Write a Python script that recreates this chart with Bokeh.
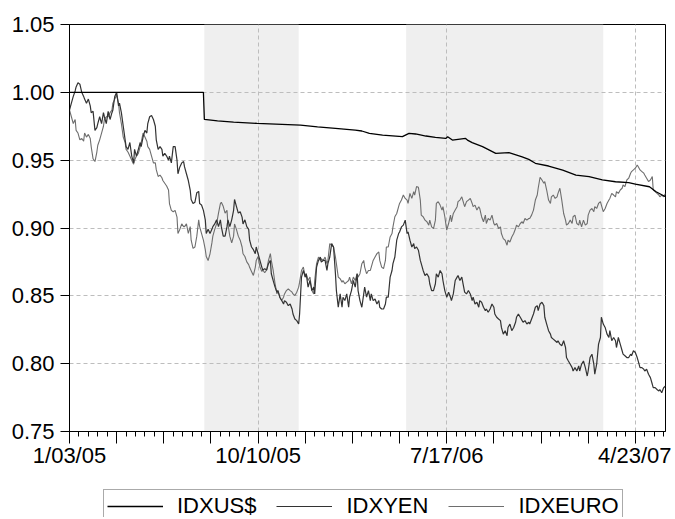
from bokeh.plotting import figure
from bokeh.layouts import column
from bokeh.models import (Range1d, FixedTicker, PrintfTickFormatter, BoxAnnotation,
                          Legend, LegendItem)
from bokeh.embed import file_html
from bokeh.resources import INLINE

# ---------------- data (x = business-day observation index from 1/03/05) ----------------
tick_obs = [0, 200, 400, 600]
tick_labels = ["1/03/05", "10/10/05", "7/17/06", "4/23/07"]
y_ticks = [0.75, 0.80, 0.85, 0.90, 0.95, 1.00, 1.05]

shade_start = [143, 357]
shade_end = [243, 566]

usd_obs = [0, 142, 143, 157, 174, 199, 245, 263, 282, 303, 310, 318, 332, 353, 360, 367,
           378, 388, 399, 401, 406, 420, 422, 427, 438, 452, 466, 480, 487, 494, 508, 523,
           537, 551, 565, 579, 593, 600, 615, 622, 632]
usd_val = [1.000, 1.000, 0.980, 0.979, 0.978, 0.9771, 0.9759, 0.9746, 0.9735, 0.9722, 0.9715,
           0.9698, 0.9685, 0.9673, 0.9698, 0.9693, 0.9678, 0.9668, 0.9660, 0.9673, 0.9648,
           0.9660, 0.9648, 0.9629, 0.9600, 0.9550, 0.9555, 0.9525, 0.9506, 0.9477, 0.9457,
           0.9427, 0.9390, 0.9378, 0.9354, 0.9341, 0.9334, 0.9324, 0.9304, 0.9267, 0.9230]

sample_obs = [
    0, 2, 4, 6, 7, 9, 11, 13, 15, 16,
    18, 20, 22, 23, 25, 27, 29, 30, 32, 34,
    36, 37, 39, 41, 43, 45, 46, 48, 50, 52,
    53, 55, 57, 59, 60, 62, 64, 66, 68, 69,
    71, 73, 75, 76, 78, 80, 82, 83, 85, 87,
    89, 91, 92, 94, 96, 98, 99, 101, 103, 105,
    106, 108, 110, 112, 114, 115, 117, 119, 121, 122,
    124, 126, 128, 129, 131, 133, 135, 137, 138, 140,
    142, 144, 145, 147, 149, 151, 152, 154, 156, 158,
    160, 161, 163, 165, 167, 168, 170, 172, 174, 175,
    177, 179, 181, 183, 184, 186, 188, 190, 191, 193,
    195, 197, 198, 200, 202, 204, 205, 207, 209,
    211, 213, 214, 216, 218, 220, 221, 223, 225, 227,
    228, 230, 232, 234, 236, 237, 239, 241, 243, 244,
    246, 248, 250, 251, 253, 255, 257, 259, 260, 262,
    264, 266, 267, 269, 271, 273, 274, 276, 278, 280,
    282, 283, 285, 287, 289, 290, 292, 294, 296, 297,
    299, 301, 303, 305, 306, 308, 310, 312, 313, 315,
    317, 319, 320, 322, 324, 326, 328, 329, 331, 333,
    335, 336, 338, 340, 342, 343, 345, 347, 349, 350,
    352, 354, 356, 358, 359, 361, 363, 365, 366, 368,
    370, 372, 373, 375, 377, 379, 381, 382, 384, 386,
    388, 389, 391, 393, 395, 396, 398, 400, 402, 404,
    405, 407, 409, 411, 412, 414, 416, 418, 419, 421,
    423, 425, 427, 428, 430, 432, 434, 435, 437, 439,
    441, 442, 444, 446, 448, 450, 451, 453, 455, 457,
    458, 460, 462, 464, 465, 467, 469, 471, 473, 474,
    476, 478, 480, 481, 483, 485, 487, 488, 490, 492,
    494, 496, 497, 499, 501, 503, 504, 506, 508, 510,
    511, 513, 515, 517, 518, 520, 522, 524, 526, 527,
    529, 531, 533, 534, 536, 538, 540, 541, 543, 545,
    547, 549, 550, 552, 554, 556, 557, 559, 561, 563,
    564, 566, 568, 570, 572, 573, 575, 577, 579, 580,
    582, 584, 586, 587, 589, 591, 593, 595, 596, 598,
    600, 602, 603, 605, 607, 609, 610, 612, 614, 616,
    618, 619, 621, 623, 625, 626, 628, 630, 632,
]

yen_val = [
    0.987, 0.992, 0.997, 1.001, 1.004, 1.007, 1.006, 1.000, 0.997, 0.995,
    0.992, 0.995, 0.990, 0.985, 0.986, 0.972, 0.974, 0.977, 0.982, 0.977,
    0.985, 0.982, 0.977, 0.986, 0.980, 0.985, 0.987, 0.997, 1.000, 0.990,
    0.992, 0.985, 0.975, 0.965, 0.960, 0.958, 0.963, 0.953, 0.948, 0.958,
    0.953, 0.958, 0.963, 0.960, 0.967, 0.972, 0.970, 0.977, 0.982, 0.983,
    0.980, 0.975, 0.965, 0.958, 0.960, 0.958, 0.953, 0.955, 0.953, 0.950,
    0.953, 0.948, 0.960, 0.960, 0.950, 0.940, 0.945, 0.948, 0.949, 0.945,
    0.940, 0.935, 0.928, 0.921, 0.918, 0.919, 0.926, 0.927, 0.918, 0.917,
    0.913, 0.906, 0.896, 0.899, 0.896, 0.899, 0.901, 0.903, 0.906, 0.901,
    0.906, 0.901, 0.894, 0.894, 0.901, 0.906, 0.901, 0.906, 0.913, 0.921,
    0.916, 0.911, 0.912, 0.908, 0.903, 0.906, 0.901, 0.899, 0.891, 0.886,
    0.884, 0.881, 0.886, 0.881, 0.876, 0.871, 0.869, 0.870, 0.869,
    0.8737, 0.8761, 0.8663, 0.8613, 0.8564, 0.8527, 0.8539, 0.8490, 0.8465, 0.8440,
    0.8465, 0.8453, 0.8428, 0.8440, 0.8403, 0.8366, 0.8329, 0.8317, 0.8292, 0.8366,
    0.8638, 0.8687, 0.8638, 0.8663, 0.8564, 0.8613, 0.8539, 0.8564, 0.8514, 0.8712,
    0.8761, 0.8786, 0.8749, 0.8761, 0.8761, 0.8687, 0.8737, 0.8786, 0.8885, 0.8860,
    0.8663, 0.8539, 0.8416, 0.8514, 0.8416, 0.8490, 0.8465, 0.8514, 0.8416, 0.8490,
    0.8539, 0.8613, 0.8564, 0.8663, 0.8539, 0.8465, 0.8416, 0.8514, 0.8564, 0.8490,
    0.8539, 0.8465, 0.8514, 0.8465, 0.8477, 0.8440, 0.8465, 0.8416, 0.8403, 0.8403,
    0.8440, 0.8490, 0.8490, 0.8638, 0.8687, 0.8737, 0.8786, 0.8910, 0.8959, 0.8971,
    0.9008, 0.9021, 0.9058, 0.8959, 0.8971, 0.8910, 0.8860, 0.8885, 0.8848, 0.8860,
    0.8836, 0.8761, 0.8737, 0.8687, 0.8650, 0.8663, 0.8638, 0.8589, 0.8539, 0.8539,
    0.8589, 0.8663, 0.8638, 0.8687, 0.8663, 0.8613, 0.8539, 0.8490, 0.8527, 0.8490,
    0.8465, 0.8514, 0.8613, 0.8638, 0.8650, 0.8613, 0.8638, 0.8564, 0.8527, 0.8514,
    0.8539, 0.8514, 0.8465, 0.8490, 0.8440, 0.8453, 0.8416, 0.8465, 0.8453, 0.8416,
    0.8391, 0.8403, 0.8379, 0.8403, 0.8440, 0.8416, 0.8366, 0.8342, 0.8329, 0.8317,
    0.8267, 0.8218, 0.8243, 0.8206, 0.8267, 0.8292, 0.8243, 0.8267, 0.8305, 0.8342,
    0.8366, 0.8342, 0.8317, 0.8305, 0.8317, 0.8292, 0.8305, 0.8292, 0.8329, 0.8366,
    0.8416, 0.8428, 0.8391, 0.8440, 0.8453, 0.8428, 0.8342, 0.8292, 0.8243, 0.8218,
    0.8193, 0.8181, 0.8169, 0.8156, 0.8169, 0.8144, 0.8132, 0.8169, 0.8119, 0.8045,
    0.8020, 0.7996, 0.7971, 0.7946, 0.7971, 0.7946, 0.7983, 0.7946, 0.7996, 0.8020,
    0.7971, 0.7909, 0.7946, 0.8045, 0.8070, 0.7996, 0.7922, 0.7996, 0.8144, 0.8193,
    0.8342, 0.8292, 0.8267, 0.8218, 0.8193, 0.8243, 0.8169, 0.8193, 0.8169, 0.8119,
    0.8193, 0.8144, 0.8095, 0.8070, 0.8058, 0.8045, 0.8045, 0.8070, 0.8058, 0.8095,
    0.8082, 0.8045, 0.8020, 0.7971, 0.7971, 0.7959, 0.7946, 0.7959, 0.7922, 0.7897,
    0.7848, 0.7823, 0.7823, 0.7810, 0.7798, 0.7810, 0.7786, 0.7823, 0.7835,
]

euro_val = [
    0.987, 0.982, 0.977, 0.980, 0.972, 0.970, 0.965, 0.966, 0.964, 0.970,
    0.967, 0.969, 0.966, 0.960, 0.951, 0.949, 0.956, 0.961, 0.965, 0.970,
    0.975, 0.980, 0.982, 0.982, 0.985, 0.987, 0.992, 0.995, 0.998, 0.992,
    0.985, 0.977, 0.967, 0.963, 0.958, 0.956, 0.953, 0.950, 0.947, 0.950,
    0.953, 0.955, 0.960, 0.963, 0.970, 0.967, 0.964, 0.960, 0.958, 0.953,
    0.948, 0.948, 0.943, 0.938, 0.939, 0.937, 0.935, 0.933, 0.931, 0.928,
    0.918, 0.913, 0.912, 0.913, 0.908, 0.896, 0.899, 0.903, 0.901, 0.901,
    0.903, 0.896, 0.901, 0.891, 0.885, 0.886, 0.894, 0.906, 0.901, 0.896,
    0.891, 0.884, 0.879, 0.876, 0.881, 0.889, 0.894, 0.899, 0.903, 0.911,
    0.918, 0.919, 0.916, 0.911, 0.913, 0.903, 0.894, 0.889, 0.894, 0.903,
    0.899, 0.894, 0.891, 0.886, 0.881, 0.879, 0.875, 0.873, 0.871, 0.868,
    0.865, 0.871, 0.876, 0.879, 0.871, 0.868, 0.869, 0.867, 0.869,
    0.8761, 0.8811, 0.8761, 0.8687, 0.8589, 0.8514, 0.8539, 0.8490, 0.8465, 0.8490,
    0.8514, 0.8539, 0.8552, 0.8539, 0.8527, 0.8514, 0.8502, 0.8527, 0.8564, 0.8601,
    0.8687, 0.8712, 0.8638, 0.8663, 0.8613, 0.8638, 0.8539, 0.8514, 0.8613, 0.8737,
    0.8786, 0.8761, 0.8774, 0.8761, 0.8786, 0.8737, 0.8761, 0.8885, 0.8873, 0.8860,
    0.8786, 0.8737, 0.8638, 0.8626, 0.8601, 0.8613, 0.8589, 0.8601, 0.8613, 0.8638,
    0.8589, 0.8638, 0.8613, 0.8663, 0.8638, 0.8663, 0.8737, 0.8761, 0.8712, 0.8663,
    0.8687, 0.8687, 0.8712, 0.8761, 0.8786, 0.8811, 0.8823, 0.8761, 0.8712, 0.8700,
    0.8761, 0.8860, 0.8860, 0.8934, 0.8959, 0.9008, 0.9083, 0.9107, 0.9157, 0.9181,
    0.9206, 0.9243, 0.9218, 0.9206, 0.9181, 0.9255, 0.9218, 0.9268, 0.9243, 0.9305,
    0.9300, 0.9206, 0.9095, 0.9083, 0.9058, 0.9046, 0.9021, 0.9058, 0.9008, 0.8996,
    0.9058, 0.9181, 0.9194, 0.9169, 0.9132, 0.9157, 0.9083, 0.8984, 0.9033, 0.9095,
    0.9046, 0.9107, 0.9132, 0.9157, 0.9194, 0.9206, 0.9230, 0.9181, 0.9157, 0.9194,
    0.9206, 0.9218, 0.9181, 0.9157, 0.9169, 0.9132, 0.9157, 0.9144, 0.9083, 0.9046,
    0.9095, 0.9033, 0.9070, 0.9058, 0.9095, 0.9033, 0.9021, 0.9033, 0.8996, 0.9008,
    0.8959, 0.8922, 0.8910, 0.8873, 0.8910, 0.8897, 0.8934, 0.8959, 0.8996, 0.9021,
    0.9008, 0.9033, 0.9046, 0.9033, 0.9070, 0.9058, 0.9070, 0.9070, 0.9095, 0.9132,
    0.9206, 0.9243, 0.9293, 0.9374, 0.9354, 0.9330, 0.9342, 0.9280, 0.9206, 0.9181,
    0.9230, 0.9243, 0.9218, 0.9230, 0.9255, 0.9293, 0.9206, 0.9107, 0.9058, 0.9021,
    0.9033, 0.9058, 0.9033, 0.9083, 0.9095, 0.9033, 0.9021, 0.9058, 0.9008, 0.9058,
    0.9021, 0.9033, 0.9095, 0.9132, 0.9144, 0.9120, 0.9157, 0.9144, 0.9181, 0.9194,
    0.9169, 0.9120, 0.9144, 0.9181, 0.9206, 0.9218, 0.9255, 0.9243, 0.9230, 0.9268,
    0.9255, 0.9280, 0.9293, 0.9317, 0.9305, 0.9354, 0.9367, 0.9404, 0.9416, 0.9428,
    0.9441, 0.9465, 0.9453, 0.9428, 0.9416, 0.9404, 0.9391, 0.9367, 0.9342, 0.9354,
    0.9379, 0.9280, 0.9268, 0.9255, 0.9243, 0.9230, 0.9243, 0.9230, 0.9255,
]

series_names = ["IDXUS$", "IDXYEN", "IDXEURO"]
series_colors = ["#000000", "#333333", "#6e6e6e"]
series_widths = [1.3, 1.2, 1.1]

# ---------------- main chart ----------------
n = min(len(sample_obs), len(yen_val), len(euro_val))

p = figure(width=671, height=486, output_backend="svg", toolbar_location=None,
           x_range=Range1d(0, 632), y_range=Range1d(0.75, 1.05),
           min_border_left=69, min_border_right=6, min_border_top=24, min_border_bottom=55,
           background_fill_color="white", border_fill_color="white")

p.outline_line_color = "black"
p.outline_line_width = 1
p.outline_line_alpha = 1

# shaded periods (drawn beneath the grid)
boxes = [BoxAnnotation(left=a, right=b, fill_color="#efefef", fill_alpha=1.0,
                       line_alpha=0, level="underlay")
         for a, b in zip(shade_start, shade_end)]
p.center = boxes + list(p.center)

# grids
p.xgrid.ticker = FixedTicker(ticks=tick_obs)
p.ygrid.ticker = FixedTicker(ticks=y_ticks[1:-1])
for g in (p.xgrid, p.ygrid):
    g.grid_line_color = "#bdbdbd"
    g.grid_line_dash = "4 3"
    g.grid_line_width = 1

# x axis
major = list(range(0, 601, 50))
minor = list(range(0, 633, 10))
xa = p.xaxis[0]
xa.ticker = FixedTicker(ticks=major, minor_ticks=minor)
overrides = {m: "" for m in major}
for t, lab in zip(tick_obs, tick_labels):
    overrides[t] = lab
xa.major_label_overrides = overrides
xa.major_tick_out = 12
xa.major_tick_in = 0
xa.minor_tick_out = 5
xa.minor_tick_in = 0
xa.major_label_standoff = -1
xa.axis_line_color = "black"
xa.major_tick_line_color = "black"
xa.minor_tick_line_color = "black"
xa.major_label_text_font = "Liberation Sans"
xa.major_label_text_font_size = "22px"
xa.major_label_text_color = "black"

# y axis
ya = p.yaxis[0]
ya.ticker = FixedTicker(ticks=y_ticks, minor_ticks=[])
ya.formatter = PrintfTickFormatter(format="%.2f")
ya.major_tick_out = 9
ya.major_tick_in = 0
ya.minor_tick_out = 0
ya.minor_tick_in = 0
ya.major_label_standoff = 6
ya.axis_line_color = "black"
ya.major_tick_line_color = "black"
ya.major_label_text_font = "Liberation Sans"
ya.major_label_text_font_size = "22px"
ya.major_label_text_color = "black"

# lines
p.line(sample_obs[:n], euro_val[:n], line_color=series_colors[2], line_width=series_widths[2])
p.line(sample_obs[:n], yen_val[:n], line_color=series_colors[1], line_width=series_widths[1])
p.line(usd_obs, usd_val, line_color=series_colors[0], line_width=series_widths[0])

# ---------------- legend strip below (same left/right borders as the chart) ----------------
q = figure(width=671, height=31, output_backend="svg", toolbar_location=None,
           x_range=Range1d(0, 1), y_range=Range1d(0, 1),
           x_axis_type=None, y_axis_type=None,
           min_border_left=69, min_border_right=6, min_border_top=0, min_border_bottom=0,
           background_fill_color="white", border_fill_color="white")
q.outline_line_color = None
q.xgrid.visible = False
q.ygrid.visible = False
# legend keys: off-range dummy points, so only the legend swatches show
keys = [q.line([-1, -2], [-1, -2], line_color=c, line_width=w)
        for c, w in zip(series_colors, series_widths)]

legend = Legend(items=[LegendItem(label=nm, renderers=[r]) for nm, r in zip(series_names, keys)],
                location=(34, -6), orientation="horizontal",
                label_text_font="Liberation Sans", label_text_font_size="22px",
                label_text_color="black",
                glyph_width=56, glyph_height=20, label_standoff=14, spacing=20,
                padding=3, margin=0,
                border_line_color="#555555", border_line_width=1,
                background_fill_color="white", background_fill_alpha=1.0)
q.add_layout(legend)

layout = column(p, q, spacing=0)
open("out.html", "w").write(file_html(layout, INLINE))
